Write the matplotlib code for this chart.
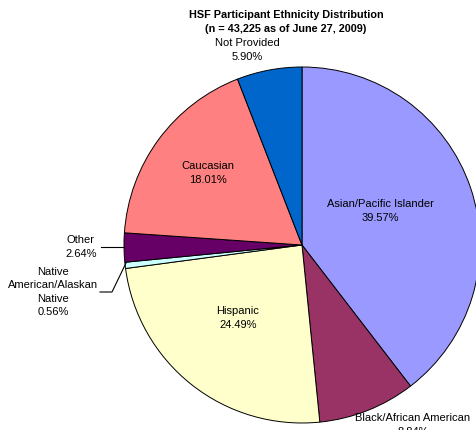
import matplotlib
matplotlib.use("Agg")
import matplotlib.pyplot as plt

categorias = ["Asian/Pacific Islander", "Black/African American", "Hispanic",
              "Native\nAmerican/Alaskan\nNative", "Other", "Caucasian", "Not Provided"]
porcentajes = [39.57, 8.84, 24.49, 0.56, 2.64, 18.01, 5.90]
colores = ["#9999FF", "#993366", "#FFFFCC", "#CCFFFF", "#660066", "#FF8080", "#0066CC"]

plt.rcParams["font.family"] = ["Liberation Sans", "DejaVu Sans"]

W, H = 477, 430
fig = plt.figure(figsize=(W / 100, H / 100), dpi=100)

# pastel centrado en (302, 245) px con radio 178 px
cx, cy, r = 302, 245, 178
ax = fig.add_axes([(cx - r) / W, (H - cy - r) / H, 2 * r / W, 2 * r / H])
ax.pie(porcentajes, colors=colores, startangle=90, counterclock=False, radius=1,
       wedgeprops=dict(edgecolor="black", linewidth=0.7))
ax.set_xlim(-1, 1)
ax.set_ylim(-1, 1)
ax.set_aspect("equal")
ax.axis("off")


def px(x, y):
    return x / W, 1 - y / H


def etiqueta(x, y, texto, ha="center"):
    fig.text(*px(x, y), texto, ha=ha, va="center", fontsize=8, linespacing=1.42)


fig.text(*px(286, 22), "HSF Participant Ethnicity Distribution\n(n = 43,225 as of June 27, 2009)",
         ha="center", va="center", fontsize=7.8, fontweight="bold", linespacing=1.4)

textos = [f"{c}\n{p:.2f}%" for c, p in zip(categorias, porcentajes)]
etiqueta(380, 211, textos[0])
etiqueta(413, 425, textos[1])
etiqueta(238, 318, textos[2])
etiqueta(53, 292, textos[3])
etiqueta(81, 247, textos[4])
etiqueta(208, 173, textos[5])
etiqueta(247, 50, textos[6])

# lineas guia
fig.add_artist(plt.Line2D([px(101, 0)[0], px(124, 0)[0]], [px(0, 247)[1], px(0, 247)[1]],
                          color="black", linewidth=0.8))
fig.add_artist(plt.Line2D([px(100, 0)[0], px(112, 0)[0], px(126, 0)[0]],
                          [px(0, 292)[1], px(0, 292)[1], px(0, 263)[1]],
                          color="black", linewidth=0.8))

fig.savefig("out.png", dpi=100)
